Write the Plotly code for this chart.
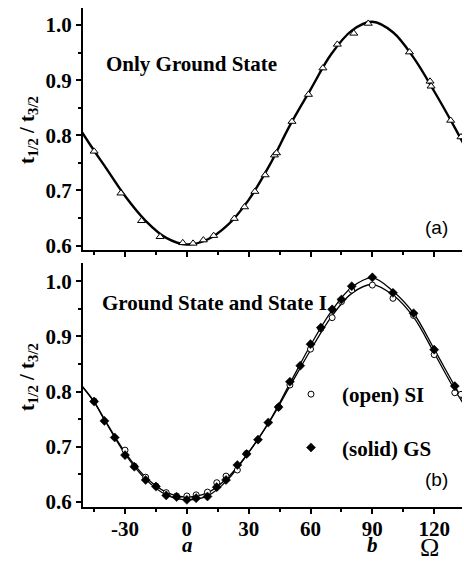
import plotly.graph_objects as go

# ---------------- data ----------------
# Panel (a): only ground state (open triangles) + fitted curve
a_pts_x = [-45, -32, -22, -13, -2, 3, 8, 13, 23, 28, 33, 38, 42.5, 43.5, 51, 59, 66, 73, 81, 88, 108, 118, 118.5, 128, 133]
a_pts_y = [0.771, 0.695, 0.645, 0.616, 0.605, 0.604, 0.610, 0.618, 0.649, 0.670, 0.698, 0.728, 0.764, 0.768,
           0.825, 0.874, 0.922, 0.965, 0.985, 1.003, 0.951, 0.898, 0.889, 0.827, 0.797]

curve_x = [-52, -45, -40, -30, -20, -10, 0, 10, 20, 30, 40, 50, 60, 70, 80, 90, 100, 110, 120, 130, 136]
a_curve_y = [0.812, 0.772, 0.745, 0.690, 0.645, 0.614, 0.602, 0.611, 0.638, 0.683, 0.745, 0.818, 0.883,
             0.947, 0.990, 1.006, 0.987, 0.941, 0.880, 0.814, 0.772]

# Panel (b): ground state (solid diamonds) and state I (open circles)
gs_x = [-45, -40, -35, -30, -25.5, -20, -15, -10, -5, 0, 4.5, 10, 14.5, 19, 24.5, 29, 34.5, 39.5, 44.5,
        50, 55, 60, 65, 70.5, 75, 80, 90, 100, 110, 120, 130]
gs_y = [0.782, 0.747, 0.717, 0.685, 0.664, 0.640, 0.628, 0.612, 0.609, 0.604, 0.607, 0.610, 0.627, 0.640,
        0.667, 0.687, 0.713, 0.744, 0.772, 0.818, 0.847, 0.886, 0.916, 0.949, 0.967, 0.991, 1.007, 0.979,
        0.942, 0.876, 0.810]

si_x = [-45, -30, -25.5, -20, -15, -10, -5, 0, 4.5, 10, 14.5, 19, 24.5, 29, 44.5, 50, 60, 65, 70.5, 75, 80,
        90, 100, 110, 120, 130, 133]
si_y = [0.783, 0.694, 0.665, 0.645, 0.629, 0.617, 0.611, 0.611, 0.613, 0.618, 0.635, 0.647, 0.658, 0.688,
        0.772, 0.812, 0.877, 0.914, 0.934, 0.963, 0.984, 0.993, 0.969, 0.938, 0.867, 0.798, 0.795]

gs_curve_y = [0.815, 0.781, 0.749, 0.687, 0.641, 0.613, 0.604, 0.611, 0.641, 0.690, 0.746, 0.815, 0.884,
              0.945, 0.989, 1.006, 0.982, 0.942, 0.877, 0.810, 0.772]
si_curve_y = [0.815, 0.782, 0.750, 0.690, 0.645, 0.618, 0.609, 0.617, 0.645, 0.690, 0.745, 0.810, 0.875,
              0.935, 0.978, 0.994, 0.975, 0.935, 0.870, 0.803, 0.768]

x_tickvals = [-30, 0, 30, 60, 90, 120]
x_ticktext = ["-30", "0", "30", "60", "90", "120"]
y_tickvals = [0.6, 0.7, 0.8, 0.9, 1.0]
y_ticktext = ["0.6", "0.7", "0.8", "0.9", "1.0"]

X_RANGE = [-50.4, 133.5]
YA_RANGE = [0.592, 1.031]
YB_RANGE = [0.591, 1.033]

SERIF = "Liberation Serif"
fig = go.Figure()

# panel (a)
fig.add_trace(go.Scatter(x=curve_x, y=a_curve_y, mode="lines", line=dict(color="black", width=2.4, shape="spline"),
                         xaxis="x", yaxis="y", showlegend=False, hoverinfo="skip"))
fig.add_trace(go.Scatter(x=a_pts_x, y=a_pts_y, mode="markers",
                         marker=dict(symbol="triangle-up", size=7, color="white", line=dict(color="black", width=1)),
                         xaxis="x", yaxis="y", showlegend=False))

# panel (b)
fig.add_trace(go.Scatter(x=curve_x, y=si_curve_y, mode="lines", line=dict(color="black", width=1.3, shape="spline"),
                         xaxis="x2", yaxis="y2", showlegend=False, hoverinfo="skip"))
fig.add_trace(go.Scatter(x=curve_x, y=gs_curve_y, mode="lines", line=dict(color="black", width=1.3, shape="spline"),
                         xaxis="x2", yaxis="y2", showlegend=False, hoverinfo="skip"))
fig.add_trace(go.Scatter(x=si_x, y=si_y, mode="markers", name="(open) SI", legendgroup="si",
                         marker=dict(symbol="circle", size=6, color="white", line=dict(color="black", width=1)),
                         xaxis="x2", yaxis="y2"))
fig.add_trace(go.Scatter(x=gs_x, y=gs_y, mode="markers", name="(solid) GS", legendgroup="gs",
                         marker=dict(symbol="diamond", size=7, color="black", line=dict(color="black", width=0.5)),
                         xaxis="x2", yaxis="y2"))

tickfont = dict(family=SERIF, size=21, color="black", weight="bold")
minor_x = dict(tick0=-45, dtick=15, ticklen=3, tickwidth=2, tickcolor="black")
minor_y = dict(tick0=0.55, dtick=0.05, ticklen=3, tickwidth=2, tickcolor="black")

def xax(anchor, labels, side="bottom", ticks="outside", overlay=None):
    d = dict(range=X_RANGE, anchor=anchor, side=side, showline=True, linecolor="black", linewidth=2.2,
             ticks=ticks, ticklen=5, tickwidth=2.2, tickcolor="black", tickmode="array",
             tickvals=x_tickvals, ticktext=x_ticktext, showticklabels=labels, tickfont=tickfont,
             showgrid=False, zeroline=False, minor=dict(ticks=ticks, **minor_x), fixedrange=True)
    if labels:
        d["ticklabelstandoff"] = -3
    if overlay:
        d["overlaying"] = overlay
    else:
        d["domain"] = [0, 1]
    return d

def yax(anchor, rng, domain=None, side="left", ticks="outside", labels=True, overlay=None):
    d = dict(range=rng, anchor=anchor, side=side, showline=True, linecolor="black", linewidth=2.2,
             ticks=ticks, ticklen=5, tickwidth=2.2, tickcolor="black", tickmode="array",
             tickvals=y_tickvals, ticktext=y_ticktext, showticklabels=labels, tickfont=tickfont,
             showgrid=False, zeroline=False, minor=dict(ticks=ticks, **minor_y), fixedrange=True)
    if overlay:
        d["overlaying"] = overlay
    else:
        d["domain"] = domain
    return d

W, H = 464, 561
ML, MR, MT, MB = 83, 2, 8, 54
PW = W - ML - MR
PH = H - MT - MB

def px(xp):
    return (xp - ML) / PW

def py(yp):
    return (H - MB - yp) / PH

fig.update_layout(
    width=W, height=H,
    margin=dict(l=ML, r=MR, t=MT, b=MB),
    paper_bgcolor="white", plot_bgcolor="white",
    xaxis=xax("y", False),
    yaxis=yax("x", YA_RANGE, domain=[py(250), 1]),
    xaxis2=xax("y2", True),
    yaxis2=yax("x2", YB_RANGE, domain=[0, py(263)]),
    xaxis3=xax("y", False, side="top", ticks="inside", overlay="x"),
    yaxis3=yax("x", YA_RANGE, side="right", ticks="inside", labels=False, overlay="y"),
    xaxis4=xax("y2", False, side="top", ticks="inside", overlay="x2"),
    yaxis4=yax("x2", YB_RANGE, side="right", ticks="inside", labels=False, overlay="y2"),
    showlegend=True,
    legend=dict(x=px(280), y=py(374), xanchor="left", yanchor="top", bgcolor="rgba(0,0,0,0)",
                font=dict(family=SERIF, size=21, color="black", weight="bold"),
                tracegroupgap=23, itemwidth=52),
)

ann_font = dict(family=SERIF, size=21, color="black", weight="bold")
anns = [
    dict(text="Only Ground State", x=px(104), y=py(64), xanchor="left", yanchor="middle", font=ann_font),
    dict(text="Ground State and State I", x=px(100), y=py(303), xanchor="left", yanchor="middle", font=ann_font),
    dict(text="(a)", x=px(436), y=py(227), xanchor="center", yanchor="middle",
         font=dict(family="Liberation Sans", size=19, color="black")),
    dict(text="(b)", x=px(436), y=py(479), xanchor="center", yanchor="middle",
         font=dict(family="Liberation Sans", size=19, color="black")),
    dict(text="t<sub>1/2</sub> / t<sub>3/2</sub>", x=px(28), y=py(130), textangle=-90,
         xanchor="center", yanchor="middle", font=ann_font),
    dict(text="t<sub>1/2</sub> / t<sub>3/2</sub>", x=px(28), y=py(377), textangle=-90,
         xanchor="center", yanchor="middle", font=ann_font),
    dict(text="<i>a</i>", x=px(187), y=py(545), xanchor="center", yanchor="middle", font=ann_font),
    dict(text="<i>b</i>", x=px(372), y=py(545), xanchor="center", yanchor="middle", font=ann_font),
    dict(text="Ω", x=px(429), y=py(564), xanchor="center", yanchor="bottom",
         font=dict(family=SERIF, size=26, color="black")),
]
for a in anns:
    a.update(xref="paper", yref="paper", showarrow=False)
fig.update_layout(annotations=anns)

fig.write_html("out.html", config={"displayModeBar": False},
               post_script="document.body.style.margin='0';document.body.style.overflow='hidden';")
